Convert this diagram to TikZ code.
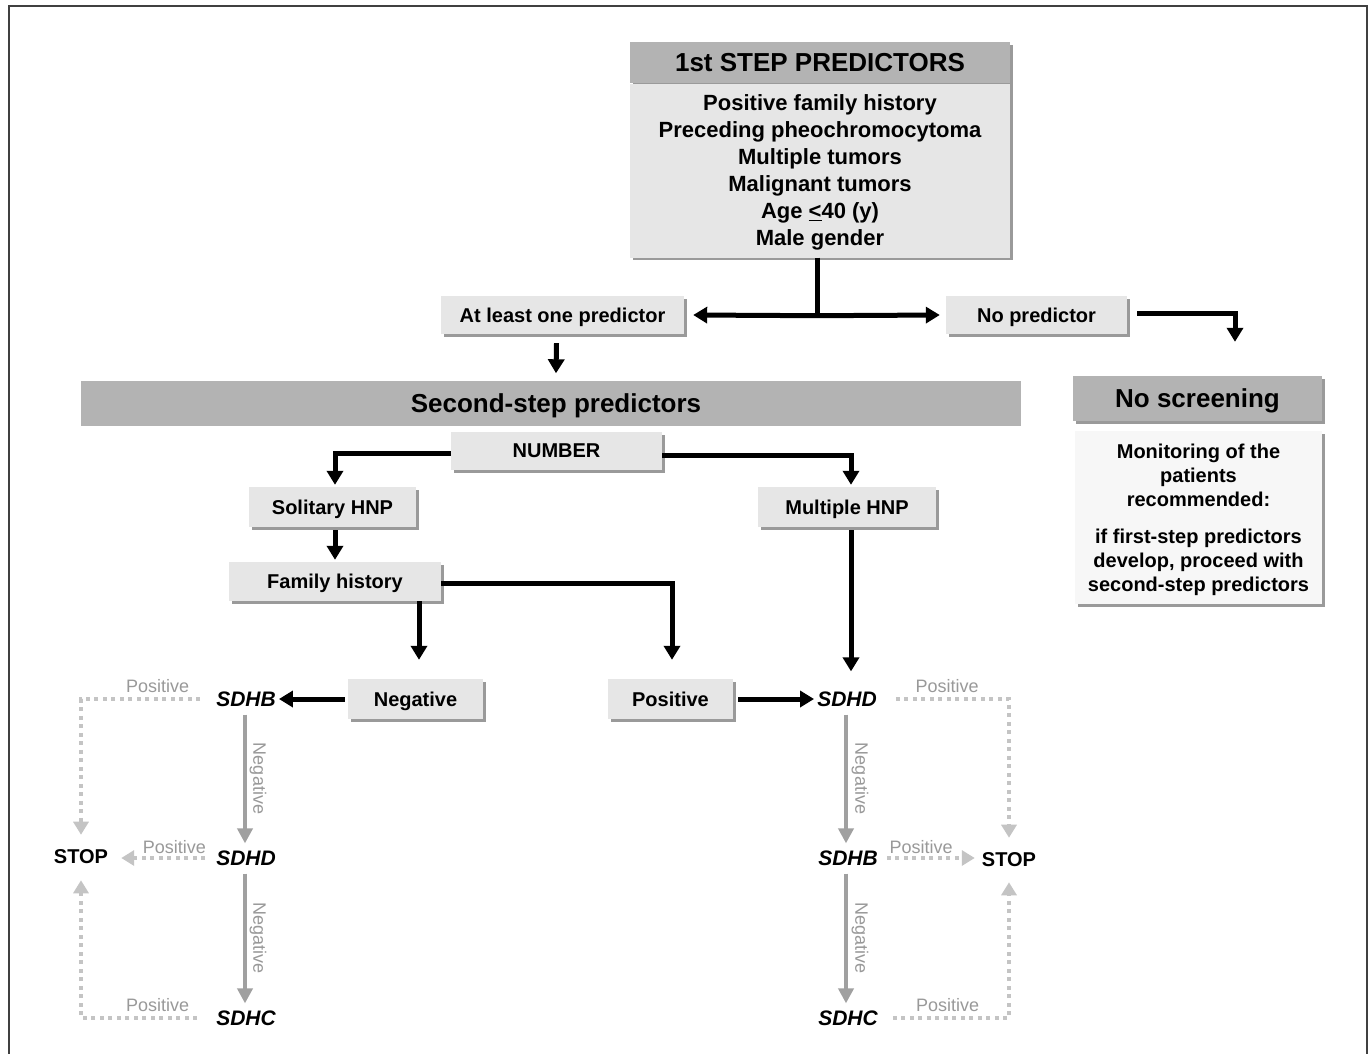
\documentclass[tikz,border=0pt]{standalone}
\usepackage{fontspec}
\setmainfont{Liberation Sans}
\usetikzlibrary{arrows.meta,calc,shadows}
\definecolor{hdr}{HTML}{B3B3B3}
\definecolor{lbox}{HTML}{E6E6E6}
\definecolor{vlbox}{HTML}{F7F7F7}
\definecolor{shd}{HTML}{9A9A9A}
\definecolor{dotc}{HTML}{C4C4C4}
\definecolor{lblc}{HTML}{999999}
\definecolor{negc}{HTML}{A0A0A0}
\definecolor{framec}{HTML}{404040}
\begin{document}
\begin{tikzpicture}[x=1pt,y=-1pt,
  sh/.style={drop shadow={shadow xshift=2.5pt,shadow yshift=-2.5pt,fill=shd,opacity=1}},
  box/.style={sh,fill=lbox,inner sep=0pt,align=center,text depth=0pt,font=\bfseries\fontsize{20}{24}\selectfont},
  hbox/.style={sh,fill=hdr,inner sep=0pt,align=center,text depth=0pt,font=\bfseries\fontsize{26}{30}\selectfont},
  gene/.style={inner sep=3pt,font=\bfseries\itshape\fontsize{21}{25}\selectfont},
  stopn/.style={inner sep=3pt,font=\bfseries\fontsize{20}{24}\selectfont},
  lbl/.style={inner sep=1pt,text=lblc,font=\fontsize{18}{20}\selectfont},
  neg/.style={inner sep=1pt,text=lblc,font=\fontsize{18}{20}\selectfont,rotate=-90},
  barr/.style={line width=5pt,line join=miter,-{Triangle[width=16pt,length=14pt]}},
  garr/.style={draw=negc,line width=4.5pt,-{Triangle[width=15pt,length=15pt]}},
  darr/.style={draw=dotc,line width=4.5pt,dash pattern=on 4pt off 4.5pt,-{Triangle[width=15pt,length=13pt]}}]
\useasboundingbox (0,0) rectangle (1370,1053);
\fill[white] (0,0) rectangle (1370,1053);
\draw[framec,line width=2pt] (9,1070) |- (1367,6) -- (1367,1070);

% first step
\node[hbox,minimum width=380pt,minimum height=41pt] (h1) at (820,62.5) {1st STEP PREDICTORS};
\node[box,minimum width=380pt,minimum height=174pt,font=\bfseries\fontsize{22}{27}\selectfont] (b1) at (820,170.5)
  {Positive family history\\Preceding pheochromocytoma\\Multiple tumors\\Malignant tumors\\Age \underline{<}40 (y)\\Male gender};

\node[box,minimum width=243pt,minimum height=38pt] (atleast) at (562.5,315) {At least one predictor};
\node[box,minimum width=181pt,minimum height=38pt] (nopred) at (1036.5,315) {No predictor};

\node[fill=hdr,inner sep=0pt,text depth=0pt,font=\bfseries\fontsize{26}{30}\selectfont,minimum width=940pt,minimum height=45pt] (second) at (551,403) {\hspace*{10pt}Second-step predictors};
\node[hbox,minimum width=249pt,minimum height=45pt] (noscr) at (1197.5,398.5) {No screening};
\node[box,fill=vlbox,minimum width=247pt,minimum height=173pt] (monit) at (1198.5,517.5)
  {Monitoring of the\\patients\\recommended:\\[13pt]if first-step predictors\\develop, proceed with\\second-step predictors};

\node[box,minimum width=211pt,minimum height=38pt] (number) at (556.5,451) {NUMBER};
\node[box,minimum width=167pt,minimum height=40pt] (solitary) at (332.5,507) {Solitary HNP};
\node[box,minimum width=178pt,minimum height=40pt] (multiple) at (847,507) {Multiple HNP};
\node[box,minimum width=212pt,minimum height=39pt] (family) at (335,581.5) {Family history};
\node[box,minimum width=135pt,minimum height=40pt] (negative) at (415.5,699) {Negative};
\node[box,minimum width=125pt,minimum height=40pt] (positive) at (670.5,699) {Positive};

% genes
\node[gene] (sdhbL) at (246,699) {SDHB};
\node[gene] (sdhdL) at (246,858) {SDHD};
\node[gene] (sdhcL) at (246,1018) {SDHC};
\node[stopn] (stopL) at (81,857) {STOP};
\node[gene] (sdhdR) at (847,699) {SDHD};
\node[gene] (sdhbR) at (848,858) {SDHB};
\node[gene] (sdhcR) at (848,1018) {SDHC};
\node[stopn] (stopR) at (1009,860) {STOP};

% black connectors
\draw[line width=5pt] ($(b1.south)+(-3,0)$) -- ++(0,58) coordinate (split);
\draw[barr] (split) -- ($(atleast.east)+(9,0)$);
\draw[barr] (split) -- ($(nopred.west)+(-6,0)$);
\draw[barr] ($(nopred.east)+(10,-2)$) -| ($(noscr.north)+(37.5,-34)$);
\draw[barr] ($(atleast.south)+(-6,9)$) -- ($(second.north)+(5,-7)$);
\draw[barr] ($(number.west)+(0,2)$) -| ($(solitary.north)+(2.5,-2)$);
\draw[barr] ($(number.east)+(0,4)$) -| ($(multiple.north)+(4,-2)$);
\draw[barr] ($(solitary.south)+(2.5,3)$) -- ($(family.north)+(0,-2)$);
\draw[barr] ($(family.south)+(84,0)$) -- ($(negative.north)+(3.5,-19)$);
\draw[barr] ($(family.east)+(0,1.5)$) -| ($(positive.north)+(1.5,-19)$);
\draw[barr] ($(multiple.south)+(4,3)$) -- ($(sdhdR.north)+(4,-17)$);
\draw[barr] ($(negative.west)+(-3,0)$) -- (sdhbL.east);
\draw[barr] ($(positive.east)+(5,0)$) -- (sdhdR.west);

% gray negative arrows
\draw[garr,shorten <=5pt,shorten >=4pt] ($(sdhbL.south)+(-1,0)$) -- node[xshift=13pt,neg]{Negative} ($(sdhdL.north)+(-1,0)$);
\draw[garr,shorten <=5pt,shorten >=4pt] ($(sdhdL.south)+(-1,0)$) -- node[xshift=13pt,neg]{Negative} ($(sdhcL.north)+(-1,0)$);
\draw[garr,shorten <=5pt,shorten >=4pt] ($(sdhdR.south)+(-1,0)$) -- node[xshift=14pt,neg]{Negative} ($(sdhbR.north)+(-2,0)$);
\draw[garr,shorten <=5pt,shorten >=4pt] ($(sdhbR.south)+(-2,0)$) -- node[xshift=14pt,neg]{Negative} ($(sdhcR.north)+(-2,0)$);

% dotted positive arrows
\draw[darr,shorten <=13pt,shorten >=12pt] (sdhbL.west) -| node[lbl,pos=0.21,above=3pt]{Positive} (stopL.north);
\draw[darr,shorten <=8pt,shorten >=10pt] (sdhdL.west) -- node[lbl,pos=0.38,above=1pt]{Positive} (sdhdL.west -| stopL.east);
\draw[darr,shorten <=16pt,shorten >=13pt] (sdhcL.west) -| node[lbl,pos=0.21,above=3pt]{Positive} (stopL.south);
\draw[darr,shorten <=16pt,shorten >=12pt] (sdhdR.east) -| node[lbl,pos=0.26,above=3pt]{Positive} (stopR.north);
\draw[darr,shorten <=6pt,shorten >=4pt] (sdhbR.east) -- node[lbl,pos=0.41,above=1pt]{Positive} (sdhbR.east -| stopR.west);
\draw[darr,shorten <=12pt,shorten >=12pt] (sdhcR.east) -| node[lbl,pos=0.26,above=3pt]{Positive} (stopR.south);
\end{tikzpicture}
\end{document}
